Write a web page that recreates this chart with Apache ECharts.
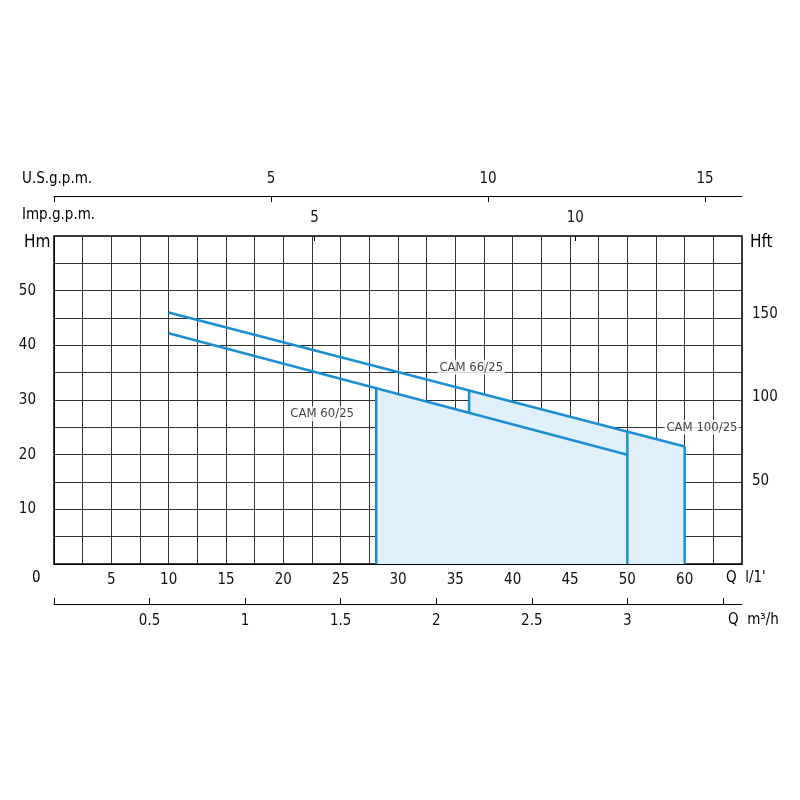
<!DOCTYPE html>
<html>
<head>
<meta charset="UTF-8" />
<script src="https://cdn.jsdelivr.net/npm/echarts@6/dist/echarts.min.js"></script>
<style>
  html, body { margin: 0; background: #fff; }
  #main { width: 800px; height: 800px; }
</style>
</head>
<body>
<div id="main"></div>
<script>
var chart = echarts.init(document.getElementById('main'));

// Q in l/min (axis position; last point sits on the tick labelled "60"), H in m
var cam60 = [[10, 42.2], [50, 20.0]];
var cam100 = [[10, 46.0], [55, 21.5]];
// vertical limits of each model: [Q, Hbottom, Htop]
var limits = [[28.1, 0, 32.2], [36.2, 27.7, 31.8], [50, 0, 24.2], [55, 0, 21.5]];
// outline of the shaded working range
var workArea = [[28.1, 32.2], [36.2, 27.7], [36.2, 31.8], [55, 21.5]];
var labels = [
  { name: 'CAM 66/25', coord: [33.0, 36.0] },
  { name: 'CAM 60/25', coord: [20.0, 27.5] },
  { name: 'CAM 100/25', coord: [52.8, 25.0] }
];

var FONT = 'DejaVu Sans Condensed, DejaVu Sans, sans-serif';
var BLUE = '#1b8fd2';
var txt = { color: '#111', fontSize: 15, fontFamily: FONT };

var series = [
  { type: 'line', data: workArea, symbol: 'none', lineStyle: { width: 0 },
    areaStyle: { color: '#dff0fa', opacity: 1 }, z: 1 },
  { type: 'line', data: cam60, symbol: 'none', lineStyle: { color: BLUE, width: 2.5 }, z: 3 },
  { type: 'line', data: cam100, symbol: 'none', lineStyle: { color: BLUE, width: 2.5 }, z: 3 }
];
limits.forEach(function (l) {
  series.push({ type: 'line', data: [[l[0], l[1]], [l[0], l[2]]], symbol: 'none',
    lineStyle: { color: BLUE, width: 2.5 }, z: 3 });
});
series.push({
  type: 'scatter', symbolSize: 0, data: labels.map(function (d) {
    return { value: d.coord, label: { show: true, formatter: d.name, position: 'right',
      color: '#111', fontSize: 13, fontFamily: FONT, backgroundColor: '#fff', padding: [1, 2] } };
  }), z: 5
});

var option = {
  backgroundColor: '#fff',
  animation: false,
  grid: { left: 54, right: 58, top: 236, bottom: 236, show: true, borderColor: '#000', borderWidth: 1.5,
    containLabel: false, outerBoundsMode: 'none' },
  xAxis: [
    { type: 'value', position: 'bottom', min: 0, max: 60, interval: 2.5,
      axisLine: { onZero: false, lineStyle: { color: '#000' } }, axisTick: { show: false },
      splitLine: { show: true, lineStyle: { color: '#333', width: 1 } },
      axisLabel: Object.assign({ margin: 9, showMaxLabel: false, formatter: function (v) {
        if (v <= 0 || v >= 60 || v % 5) return '';
        return v === 55 ? '60' : String(v);
      } }, txt) },
    { type: 'value', position: 'bottom', offset: 40, min: 0, max: 3.6, interval: 0.5,
      axisLine: { show: true, onZero: false, lineStyle: { color: '#000' } },
      axisTick: { show: true, inside: true, length: 6, lineStyle: { color: '#000' } },
      splitLine: { show: false },
      axisLabel: Object.assign({ margin: 10, showMaxLabel: false, formatter: function (v) {
        return (v > 0 && v < 3.5) ? String(v) : '';
      } }, txt) },
    { type: 'value', position: 'top', min: 0, max: 60 / 4.546, interval: 5,
      axisLine: { show: false, onZero: false }, axisTick: { show: true, inside: true, length: 5, lineStyle: { color: '#000' } },
      splitLine: { show: false },
      axisLabel: Object.assign({ margin: 10, showMaxLabel: false, formatter: function (v) { return (v > 0 && v % 5 === 0) ? String(v) : ''; } }, txt) },
    { type: 'value', position: 'top', offset: 40, min: 0, max: 60 / 3.785, interval: 5,
      axisLine: { show: true, onZero: false, lineStyle: { color: '#000' } },
      axisTick: { show: true, inside: true, length: 6, lineStyle: { color: '#000' } },
      splitLine: { show: false },
      axisLabel: Object.assign({ margin: 9, showMaxLabel: false, formatter: function (v) { return (v > 0 && v % 5 === 0) ? String(v) : ''; } }, txt) }
  ],
  yAxis: [
    { type: 'value', position: 'left', min: 0, max: 60, interval: 5,
      axisLine: { onZero: false, lineStyle: { color: '#000' } }, axisTick: { show: false },
      splitLine: { show: true, lineStyle: { color: '#333', width: 1 } },
      axisLabel: Object.assign({ margin: 18, showMaxLabel: false, formatter: function (v) {
        return (v > 0 && v < 60 && v % 10 === 0) ? String(v) : '';
      } }, txt) },
    { type: 'value', position: 'right', min: 0, max: 60 * 3.2808, interval: 50,
      axisLine: { show: false, onZero: false }, axisTick: { show: false }, splitLine: { show: false },
      axisLabel: Object.assign({ margin: 10, showMaxLabel: false, formatter: function (v) { return (v > 0 && v % 50 === 0) ? String(v) : ''; } }, txt) }
  ],
  graphic: [
    { type: 'text', left: 22, top: 172, style: Object.assign({ text: 'U.S.g.p.m.' }, txt) },
    { type: 'text', left: 22, top: 208, style: Object.assign({ text: 'Imp.g.p.m.' }, txt) },
    { type: 'text', left: 24, top: 234, style: Object.assign({}, txt, { text: 'Hm', fontSize: 17 }) },
    { type: 'text', left: 750, top: 234, style: Object.assign({}, txt, { text: 'Hft', fontSize: 17 }) },
    { type: 'text', left: 32, top: 571, style: Object.assign({ text: '0' }, txt) },
    { type: 'text', left: 726, top: 571, style: Object.assign({ text: "Q  l/1'" }, txt) },
    { type: 'text', left: 728, top: 613, style: Object.assign({ text: 'Q  m³/h' }, txt) }
  ],
  series: series
};
chart.setOption(option);
</script>
</body>
</html>
